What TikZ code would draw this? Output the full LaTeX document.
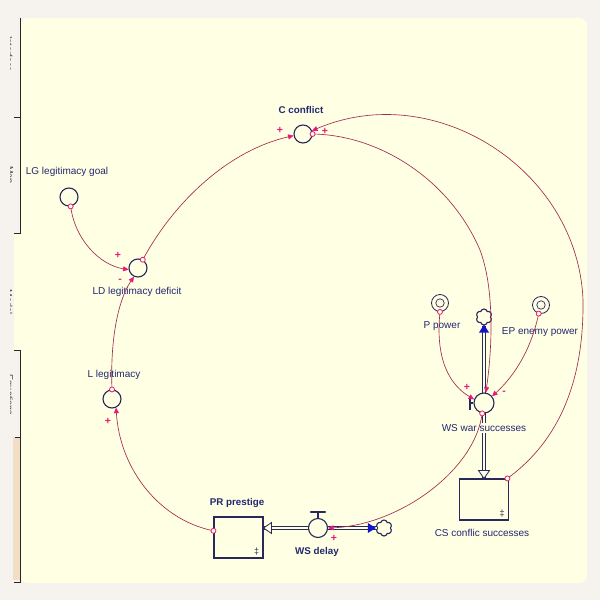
\documentclass[tikz,border=0pt]{standalone}
\usepackage{fontspec}
\setmainfont{Liberation Sans}
\usetikzlibrary{arrows.meta,shapes.symbols}
\definecolor{bgout}{RGB}{246,243,238}
\definecolor{panelcol}{RGB}{255,255,228}
\definecolor{tabbeige}{RGB}{242,222,196}
\definecolor{navy}{RGB}{34,40,112}
\definecolor{linkcol}{RGB}{165,40,80}
\definecolor{tipcol}{RGB}{228,28,120}
\definecolor{pipecol}{RGB}{40,40,90}
\definecolor{flowblue}{RGB}{20,20,200}
\tikzset{
  aux/.style={circle, draw=pipecol, line width=1.1pt, minimum size=18pt, inner sep=0pt, fill=panelcol},
  ghostc/.style={circle, draw=pipecol, line width=0.8pt, minimum size=17pt, inner sep=0pt, fill=panelcol},
  stockbox/.style={rectangle, draw=pipecol, line width=1.1pt, minimum width=49pt, minimum height=41pt, inner sep=0pt, fill=panelcol},
  lbl/.style={text=navy, font=\fontsize{10}{11}\selectfont, inner sep=1pt},
  blbl/.style={text=navy, font=\fontsize{9.8}{11}\selectfont\bfseries, inner sep=1pt},
  linkarrow/.style={draw=linkcol, line width=0.65pt, -{Triangle[length=5.5pt,width=5pt,color=tipcol]}},
  sgn/.style={text=tipcol, font=\fontsize{10.5}{11}\selectfont\bfseries, inner sep=0pt},
  mk/.style={circle, draw=tipcol, line width=0.8pt, minimum size=5pt, inner sep=0pt, fill=panelcol},
  flowpipe/.style={draw=pipecol, double=panelcol, double distance=2.6pt, line width=1pt},
  cloudn/.style={cloud, cloud puffs=6, cloud puff arc=150, aspect=1, draw=pipecol, line width=1.1pt, minimum width=16pt, minimum height=16pt, inner sep=0pt, fill=panelcol},
  tabtxt/.style={text=black!75, font=\fontsize{9}{10}\selectfont, rotate=-90, inner sep=0pt}
}
\begin{document}
\begin{tikzpicture}[x=1pt,y=-1pt]
\useasboundingbox (0,0) rectangle (600,600);
% backgrounds
\fill[bgout] (0,0) rectangle (600,600);
\fill[panelcol, rounded corners=8pt] (20,18) rectangle (587,583);
\fill[panelcol] (14,233) rectangle (21,350);
\fill[tabbeige] (13,437) rectangle (20,580);
% tab texts (partly hidden)
\begin{scope}
\clip (10,18) rectangle (17,582);
\node[tabtxt] at (9,54) {Interface};
\node[tabtxt] at (9,175) {Map};
\node[tabtxt] at (9,302) {Model};
\node[tabtxt] at (9,395) {Equations};
\end{scope}
\draw[black!85, line width=1pt] (20,18) -- (20,233) -- (14,233);
\draw[black!85, line width=1pt] (14,117) -- (20,117);
\draw[black!85, line width=1pt] (14,350) -- (20,350) -- (20,582) -- (14,582);
\draw[black!85, line width=0.8pt] (15,437) -- (20,437);

% stocks and clouds
\node[stockbox] (pr) at (238.5,537.5) {};
\node[stockbox] (cs) at (484,499.5) {};
\node[cloudn] (cl1) at (484,317) {};
\node[cloudn] (cl2) at (384,528) {};

% pipes
\draw[flowpipe] (cl1.south) -- (cl1.south |- cs.north);
\draw[flowpipe] (cl2.west) -- (cl2.west -| pr.east);
% pipe arrowheads
\fill[flowblue] ([yshift=1pt]cl1.south) -- ++(-5,8) -- ++(10,0) -- cycle;
\draw[pipecol, line width=0.8pt, fill=panelcol] (cl1.south |- cs.north) -- ++(-5.5,-8) -- ++(11,0) -- cycle;
\fill[flowblue] ([xshift=-1pt]cl2.west) -- ++(-8,-5) -- ++(0,10) -- cycle;
\draw[pipecol, line width=0.8pt, fill=panelcol] (cl2.west -| pr.east) -- ++(8,-5.5) -- ++(0,11) -- cycle;

% stock marks
\node[text=pipecol, font=\fontsize{9}{10}\selectfont, inner sep=0pt] at ([xshift=-7pt,yshift=7pt]cs.south east) {‡};
\node[text=pipecol, font=\fontsize{9}{10}\selectfont, inner sep=0pt] at ([xshift=-7pt,yshift=7pt]pr.south east) {‡};

% valves
\node[aux, minimum size=20pt] (ws) at (484,403) {};
\draw[pipecol, line width=1.4pt] (ws.west) -- ++(-2,0);
\draw[pipecol, line width=2pt] ([xshift=-3pt]ws.west) ++(0,-7) -- ++(0,14);
\node[aux, minimum size=19pt] (wsd) at (318,528) {};
\draw[pipecol, line width=1.4pt] (wsd.north) -- ++(0,-5);
\draw[pipecol, line width=2.4pt, line cap=round] ([yshift=6pt]wsd.north) ++(-7,0) -- ++(14,0);

% converters
\node[aux] (c) at (303,134) {};
\node[aux] (lg) at (69,197) {};
\node[aux] (ld) at (138,268) {};
\node[aux] (l) at (112,399) {};
\node[ghostc] (p) at (440,303) {};
\draw[pipecol, line width=0.7pt] (p.center) circle (4.2pt);
\node[ghostc] (ep) at (541,305) {};
\draw[pipecol, line width=0.7pt] (ep.center) circle (4.2pt);

% labels
\node[blbl] at (301,110) {C conflict};
\node[lbl] at (67,172) {LG legitimacy goal};
\node[lbl] at (137,292) {LD legitimacy deficit};
\node[lbl] at (114,375) {L legitimacy};
\node[lbl] at (442,326) {P power};
\node[lbl] at (540,332) {EP enemy power};
\node[lbl, fill=panelcol] at (484,428) {WS war successes};
\node[lbl] at (482,533) {CS conflic successes};
\node[blbl] at (237,503) {PR prestige};
\node[blbl] at (317,552) {WS delay};

% connectors
\draw[linkarrow] (lg.-80) .. controls (75,240) and (100,265) .. (ld.190);
\draw[linkarrow] (ld.60) .. controls (175,200) and (230,150) .. (c.190);
\draw[linkarrow] (l.north) .. controls (110,340) and (118,300) .. (ld.-115);
\draw[linkarrow] (pr.165) .. controls (160,520) and (120,470) .. (l.-65);
\draw[linkarrow] (c.0) .. controls (380,135) and (450,180) .. (480,250) .. controls (495,290) and (492,350) .. (ws.80);
\draw[linkarrow] (cs.42) .. controls (560,440) and (584,380) .. (583,300) .. controls (578,170) and (435,78) .. (c.20);
\draw[linkarrow] (p.south) .. controls (435,360) and (450,385) .. (ws.160);
\draw[linkarrow] (ep.-105) .. controls (530,355) and (510,380) .. (ws.40);
\draw[linkarrow] (ws.-100) .. controls (475,470) and (400,525) .. (wsd.east);

% start markers
\node[mk] at (lg.-80) {};
\node[mk] at (ld.60) {};
\node[mk] at (l.north) {};
\node[mk] at (pr.165) {};
\node[mk] at (c.0) {};
\node[mk] at (cs.42) {};
\node[mk] at (p.south) {};
\node[mk] at (ep.-105) {};
\node[mk] at (ws.-100) {};

% polarity signs
\node[sgn] at (118,255) {+};
\node[sgn] at (120,281) {-};
\node[sgn] at (280,130) {+};
\node[sgn] at (325,131) {+};
\node[sgn] at (467,387) {+};
\node[sgn] at (504,393) {-};
\node[sgn] at (334,538) {+};
\node[sgn] at (108,421) {+};
\end{tikzpicture}
\end{document}
